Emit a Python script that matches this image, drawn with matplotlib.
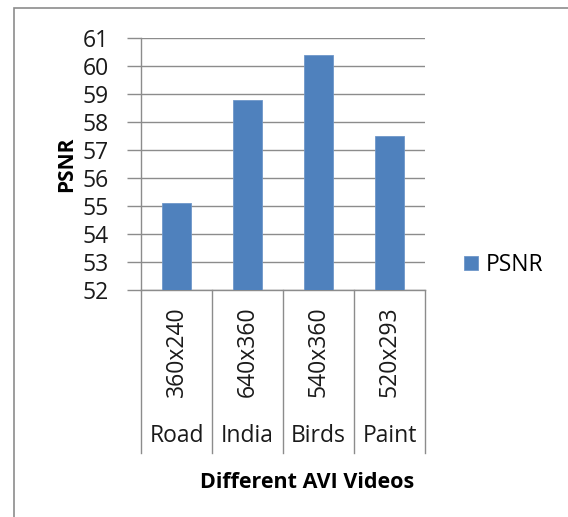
import matplotlib.pyplot as plt
from matplotlib.patches import Rectangle
from matplotlib.lines import Line2D
import matplotlib.transforms as mtransforms

videos = ['Road', 'India', 'Birds', 'Paint']
resolutions = ['360x240', '640x360', '540x360', '520x293']
psnr = [55.1, 58.8, 60.4, 57.5]
yticks = list(range(52, 62))

plt.rcParams['font.family'] = ['Open Sans', 'DejaVu Sans']

W, H = 568, 517
fig = plt.figure(figsize=(W / 100, H / 100), dpi=100)

def px(x0, y0, x1, y1):
    # pixel box (top-left origin) -> figure fraction rect
    return [x0 / W, 1 - y1 / H, (x1 - x0) / W, (y1 - y0) / H]

# chart frame
fig.patches.append(Rectangle((14 / W, -0.1), 1.2, 1 - 8 / H + 0.1,
                             transform=fig.transFigure, fill=False,
                             edgecolor='#8c8c8c', linewidth=1.2))

ax = fig.add_axes(px(141, 38, 425, 290))
x = range(len(videos))
ax.bar(x, psnr, width=0.4, color='#4f81bd', edgecolor='#6f97c9',
       linewidth=0.6, zorder=3, label='PSNR')
ax.set_xlim(-0.5, len(videos) - 0.5)
ax.set_ylim(52, 61)
ax.set_yticks(yticks)
ax.tick_params(axis='y', labelsize=16.5, length=10, width=1, color='#8c8c8c',
               pad=13, labelcolor='#1a1a1a')
ax.set_xticks([])
ax.grid(axis='y', color='#8c8c8c', linewidth=1, zorder=0)
for s in ['top', 'right']:
    ax.spines[s].set_visible(False)
for s in ['left', 'bottom']:
    ax.spines[s].set_color('#8c8c8c')
    ax.spines[s].set_linewidth(1)

# two-level category axis below the plot
trans = mtransforms.blended_transform_factory(ax.transData, ax.transAxes)
depth = -(453 - 290) / 252
for b in range(len(videos) + 1):
    ax.add_line(Line2D([b - 0.5, b - 0.5], [0, depth], transform=trans,
                       color='#8c8c8c', linewidth=1, clip_on=False))
for i, (v, r) in enumerate(zip(videos, resolutions)):
    ax.text(i, -(352 - 290) / 252, r, transform=trans, rotation=90,
            ha='center', va='center', fontsize=16.5, color='#1a1a1a')
    ax.text(i, -(436 - 290) / 252, v, transform=trans,
            ha='center', va='center', fontsize=16.5, color='#1a1a1a')

ax.set_ylabel('PSNR', fontsize=15, fontweight='bold', labelpad=4)
fig.text(307 / W, 1 - 482 / H, 'Different AVI Videos', fontsize=15.5,
         fontweight='bold', ha='center', va='center')

ax.legend(loc='center left', bbox_to_anchor=(464 / W, 1 - 265 / H),
          bbox_transform=fig.transFigure, frameon=False, fontsize=16.5,
          handlelength=0.6, handleheight=0.6, handletextpad=0.35,
          borderpad=0, borderaxespad=0)

fig.savefig('out.png', dpi=100)
